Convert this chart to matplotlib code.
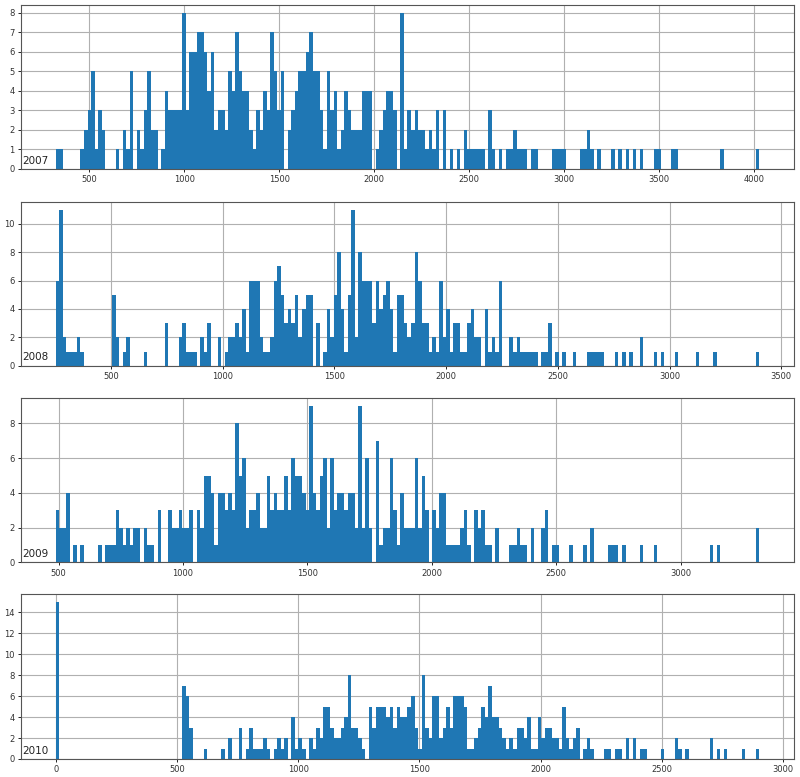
import numpy as np
import matplotlib
matplotlib.use("Agg")
import matplotlib.pyplot as plt
from matplotlib.ticker import MultipleLocator

years = ["2007", "2008", "2009", "2010"]

# data range (min, max) of each year's values; 200 equal-width bins between them
ranges = [(324, 4026), (253, 3401), (489, 3316), (0, 2901)]

counts_2007 = [
    1,1,0,0,0,0,0,1,2,3, 5,1,3,2,0,0,0,1,0,2,
    1,5,0,2,1,3,5,2,2,0, 1,4,3,3,3,3,8,3,6,6,
    7,7,6,4,6,2,3,3,2,5, 4,7,5,4,4,2,1,3,2,4,
    3,7,5,3,5,0,2,3,4,5, 5,6,7,5,5,3,1,5,3,4,
    1,2,4,3,2,2,2,4,4,4, 0,1,2,3,4,4,3,0,8,1,
    3,2,3,2,2,1,2,1,3,0, 3,0,1,0,1,0,2,1,1,1,
    1,1,0,3,1,0,1,0,1,1, 2,1,1,1,0,1,1,0,0,0,
    0,1,1,1,1,0,0,0,0,1, 1,2,1,0,1,0,0,0,1,0,
    1,0,1,0,1,0,1,0,0,0, 1,1,0,0,0,1,1,0,0,0,
    0,0,0,0,0,0,0,0,0,1, 0,0,0,0,0,0,0,0,0,1,
]
counts_2008 = [
    6,11,2,1,1,1,2,1,0,0, 0,0,0,0,0,0,5,2,0,1,
    2,0,0,0,0,1,0,0,0,0, 0,3,0,0,0,2,3,1,1,1,
    0,2,1,3,0,0,2,0,1,2, 2,3,2,4,1,6,6,6,2,1,
    1,2,6,7,5,3,4,3,5,2, 4,5,5,0,3,0,1,4,2,5,
    8,4,1,5,11,2,8,6,6,6, 3,6,4,5,6,4,1,5,5,3,
    2,3,8,6,3,3,1,2,1,6, 2,4,1,3,3,1,1,3,4,2,
    2,0,4,1,2,1,6,0,0,2, 1,2,1,1,1,1,1,0,1,1,
    3,0,1,0,1,0,0,1,0,0, 0,1,1,1,1,1,0,0,0,1,
    0,1,0,1,0,0,2,0,0,0, 1,0,1,0,0,0,1,0,0,0,
    0,0,1,0,0,0,0,1,0,0, 0,0,0,0,0,0,0,0,0,1,
]
counts_2009 = [
    3,2,2,4,0,1,0,1,0,0, 0,0,1,0,1,1,1,3,2,1,
    2,1,2,2,0,2,1,1,0,3, 0,0,3,2,2,3,2,2,3,0,
    3,2,5,5,4,1,4,4,3,4, 3,8,5,6,2,3,3,4,2,2,
    5,3,4,3,3,5,3,6,5,5, 4,3,9,4,3,5,6,2,6,3,
    4,4,3,4,4,2,9,2,6,2, 0,7,1,2,2,6,3,1,4,2,
    2,2,6,2,5,3,0,3,2,4, 4,1,1,1,1,2,3,1,0,3,
    2,3,1,1,0,2,0,0,0,1, 1,2,1,1,0,2,0,0,2,3,
    0,1,1,0,0,0,1,0,0,0, 1,0,2,0,0,0,0,1,1,1,
    0,1,0,0,0,0,1,0,0,0, 1,0,0,0,0,0,0,0,0,0,
    0,0,0,0,0,0,1,0,1,0, 0,0,0,0,0,0,0,0,0,2,
]
counts_2010 = [
    15,0,0,0,0,0,0,0,0,0, 0,0,0,0,0,0,0,0,0,0,
    0,0,0,0,0,0,0,0,0,0, 0,0,0,0,0,0,7,6,3,0,
    0,0,1,0,0,0,0,1,0,2, 0,0,3,0,1,3,1,1,1,2,
    1,0,1,2,1,2,0,4,1,2, 1,0,2,1,3,2,5,5,3,2,
    2,3,4,8,3,3,2,1,0,5, 3,5,5,5,4,5,3,5,4,4,
    5,6,3,1,8,3,2,6,6,2, 3,5,3,6,6,6,5,1,1,2,
    3,5,4,7,4,4,3,2,1,2, 1,3,3,2,4,1,1,4,2,3,
    3,2,2,1,5,2,1,2,3,0, 1,2,1,0,0,0,1,1,0,1,
    1,0,2,0,2,0,1,1,0,0, 0,0,1,0,0,0,2,1,0,1,
    0,0,0,0,0,0,2,0,1,0, 1,0,0,0,0,1,0,0,0,1,
]
all_counts = [counts_2007, counts_2008, counts_2009, counts_2010]
ytick_steps = [1, 2, 2, 2]

W, H = 800, 777
fig = plt.figure(figsize=(W / 100, H / 100), dpi=100)

# axes rectangles in pixels: (top, bottom)
left_px, right_px = 20.7, 794.3
rows_px = [(4.7, 169.0), (201.7, 365.7), (398.3, 562.3), (594.0, 759.0)]

for year, (lo, hi), counts, ystep, (top, bot) in zip(years, ranges, all_counts, ytick_steps, rows_px):
    ax = fig.add_axes([left_px / W, 1 - bot / H, (right_px - left_px) / W, (bot - top) / H])
    edges = np.linspace(lo, hi, len(counts) + 1)
    ax.hist(edges[:-1], bins=edges, weights=counts, color="#1f77b4")
    ax.set_axisbelow(True)
    ax.grid(True, color="#b0b0b0", linewidth=0.8)
    ax.xaxis.set_major_locator(MultipleLocator(500))
    ax.yaxis.set_major_locator(MultipleLocator(ystep))
    ax.tick_params(labelsize=6, length=2.5, width=0.6, pad=2, labelcolor="#333333")
    for s in ax.spines.values():
        s.set_linewidth(0.8)
        s.set_color("#555555")
    ax.text(0.002, 0.02, year, transform=ax.transAxes, fontsize=7.5,
            ha="left", va="bottom", color="#222222")

fig.savefig("out.png", dpi=100)
